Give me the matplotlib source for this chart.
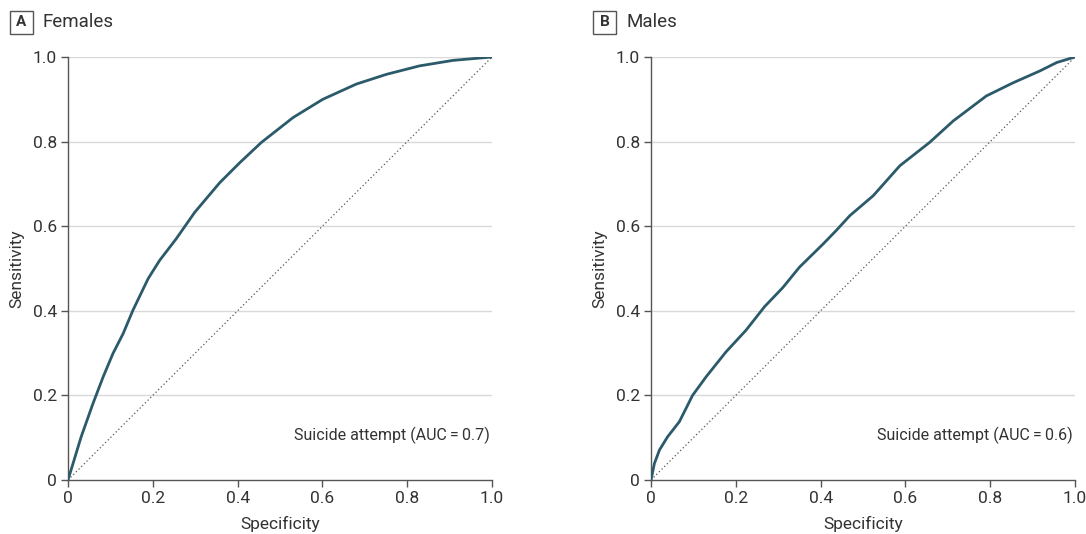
import matplotlib
matplotlib.use("Agg")
import matplotlib.pyplot as plt
from matplotlib.ticker import FuncFormatter
from matplotlib.patches import Rectangle

plt.rcParams['font.family'] = ['Roboto', 'DejaVu Sans']

panels = ["A", "B"]
titles = ["Females", "Males"]
auc_labels = ["Suicide attempt (AUC\u2009=\u20090.7)", "Suicide attempt (AUC\u2009=\u20090.6)"]

fem_x = [0, 0.031, 0.059, 0.083, 0.106, 0.130, 0.153, 0.189, 0.216, 0.255, 0.299,
         0.358, 0.405, 0.456, 0.531, 0.601, 0.680, 0.751, 0.829, 0.908, 1.0]
fem_y = [0, 0.102, 0.181, 0.244, 0.299, 0.346, 0.401, 0.476, 0.519, 0.570, 0.633,
         0.703, 0.750, 0.798, 0.857, 0.900, 0.936, 0.959, 0.979, 0.992, 1.0]
male_x = [0, 0.008, 0.020, 0.039, 0.067, 0.098, 0.130, 0.177, 0.224, 0.268, 0.311,
          0.350, 0.406, 0.437, 0.469, 0.524, 0.587, 0.657, 0.713, 0.791, 0.854,
          0.917, 0.957, 1.0]
male_y = [0, 0.039, 0.071, 0.102, 0.138, 0.200, 0.244, 0.303, 0.354, 0.410, 0.455,
          0.503, 0.558, 0.590, 0.625, 0.672, 0.743, 0.798, 0.849, 0.908, 0.939,
          0.967, 0.987, 1.0]
ticks = [0, 0.2, 0.4, 0.6, 0.8, 1.0]

curves = [(fem_x, fem_y), (male_x, male_y)]
line_color = "#2b5a6b"
text_color = "#333333"

fig = plt.figure(figsize=(10.86, 5.34), dpi=100)
lefts = [68 / 1086, 651 / 1086]
for i, left in enumerate(lefts):
    ax = fig.add_axes([left, 54 / 534, 424 / 1086, 423 / 534])
    xs, ys = curves[i]
    ax.plot([0, 1], [0, 1], linestyle=(0, (1, 2)), color="#555555", linewidth=0.9, zorder=2)
    ax.plot(xs, ys, color=line_color, linewidth=2.0, zorder=3, solid_capstyle='round',
            solid_joinstyle='round')
    ax.set_xlim(0, 1)
    ax.set_ylim(0, 1)
    ax.set_xticks(ticks)
    ax.set_yticks(ticks)
    fmt = FuncFormatter(lambda v, p: "0" if v == 0 else f"{v:.1f}")
    ax.xaxis.set_major_formatter(fmt)
    ax.yaxis.set_major_formatter(fmt)
    for t in ticks[1:]:
        ax.axhline(t, color="#d9d9d9", linewidth=1.0, zorder=1)
    for s in ["top", "right"]:
        ax.spines[s].set_visible(False)
    for s in ["left", "bottom"]:
        ax.spines[s].set_color("#555555")
        ax.spines[s].set_linewidth(1.0)
    ax.tick_params(direction="out", length=5, width=1.0, color="#555555",
                   labelsize=12.5, labelcolor=text_color, pad=3)
    ax.set_xlabel("Specificity", fontsize=12.5, color=text_color, labelpad=7)
    ax.set_ylabel("Sensitivity", fontsize=12.5, color=text_color, labelpad=6)
    ax.text(0.995, 0.105, auc_labels[i], ha="right", va="center", fontsize=11.5,
            color=text_color, transform=ax.transAxes)
    # panel label
    bx = (10 if i == 0 else 593) / 1086
    fig.patches.append(Rectangle((bx, 1 - 34 / 534), 23 / 1086, 23 / 534,
                                 transform=fig.transFigure, fill=False,
                                 edgecolor="#555555", linewidth=1.0))
    fig.text(bx + 11.5 / 1086, 1 - 22.5 / 534, panels[i], ha="center", va="center",
             fontsize=11, fontweight="bold", color=text_color)
    fig.text(bx + 33 / 1086, 1 - 22 / 534, titles[i], ha="left", va="center",
             fontsize=13.5, color=text_color)

fig.savefig("out.png", dpi=100)
